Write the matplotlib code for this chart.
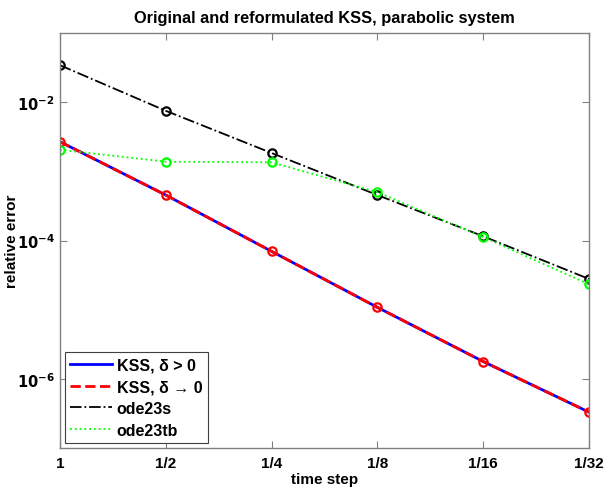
import matplotlib
matplotlib.use("Agg")
import matplotlib.pyplot as plt
from matplotlib.ticker import FixedLocator, NullLocator

plt.rcParams["font.family"] = ["Liberation Sans", "DejaVu Sans"]
plt.rcParams["font.weight"] = "bold"

# time step h = 1, 1/2, ..., 1/32
h = [1, 1/2, 1/4, 1/8, 1/16, 1/32]
h_labels = ["1", "1/2", "1/4", "1/8", "1/16", "1/32"]

kss_pos = [2.68e-3, 4.54e-4, 6.97e-5, 1.08e-5, 1.78e-6, 3.3e-7]
kss_lim = [2.68e-3, 4.54e-4, 6.97e-5, 1.08e-5, 1.78e-6, 3.3e-7]
ode23s = [3.42e-2, 7.5e-3, 1.84e-3, 4.54e-4, 1.15e-4, 2.78e-5]
ode23tb = [2.05e-3, 1.38e-3, 1.35e-3, 5.0e-4, 1.12e-4, 2.33e-5]

fig = plt.figure(figsize=(6.07, 4.89), dpi=100)
ax = fig.add_axes([60 / 607, 40 / 489, 529 / 607, 415 / 489])

ax.plot(h, kss_pos, "b-", lw=2, label="KSS, δ > 0")
ax.plot(h, kss_lim, "r--", lw=2, marker="o", ms=6, mew=1.6, mfc="none",
        label="KSS, δ → 0")
ax.plot(h, ode23s, "k-.", lw=1.3, marker="o", ms=6, mew=1.6, mfc="none",
        label="ode23s")
ax.plot(h, ode23tb, color="#00ff00", ls=":", lw=1.3, marker="o", ms=6, mew=1.6,
        mfc="none", label="ode23tb")

ax.set_xscale("log")
ax.set_yscale("log")
ax.set_xlim(1, 1/32)
ax.set_ylim(1e-7, 1e-1)
ax.xaxis.set_major_locator(FixedLocator(h))
ax.xaxis.set_minor_locator(NullLocator())
ax.set_xticklabels(h_labels)
ax.yaxis.set_major_locator(FixedLocator([1e-6, 1e-4, 1e-2]))
ax.yaxis.set_minor_locator(NullLocator())
ax.set_yticklabels([r"$\mathbf{10^{-6}}$", r"$\mathbf{10^{-4}}$", r"$\mathbf{10^{-2}}$"])

ax.tick_params(direction="in", top=True, right=True, length=5, width=0.8,
               color="#808080", labelsize=11, pad=6)
ax.tick_params(axis="y", labelsize=10.5, pad=4)
for s in ax.spines.values():
    s.set_color("#808080")
    s.set_linewidth(1.0)

ax.set_xlabel("time step", fontsize=11, fontweight="bold", labelpad=1)
ax.set_ylabel("relative error", fontsize=11, fontweight="bold")
ax.yaxis.set_label_coords(-0.077, 0.5)
ax.set_title("Original and reformulated KSS, parabolic system",
             fontsize=11.8, fontweight="bold", pad=8)

leg = ax.legend(loc="lower left", fontsize=11.5, handlelength=2.6,
                borderaxespad=0.3, fancybox=False, framealpha=1,
                edgecolor="#404040", labelspacing=0.42, handletextpad=0.3,
                borderpad=0.35, markerscale=0)
leg.get_frame().set_linewidth(0.8)
for line in leg.get_lines():
    line.set_marker("")

fig.savefig("out.png", dpi=100)
